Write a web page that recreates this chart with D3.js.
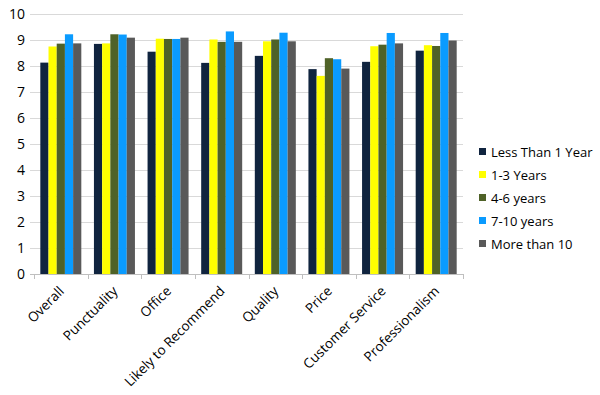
<!DOCTYPE html>
<html>
<head>
<meta charset="utf-8">
<script src="https://cdn.jsdelivr.net/npm/d3@7"></script>
<style>
  body { margin: 0; background: #fff; }
  text { font-family: "Open Sans", sans-serif; fill: #000; }
</style>
</head>
<body>
<svg id="chart" width="600" height="395"></svg>
<script>
const categories = ["Overall", "Punctuality", "Office", "Likely to Recommend", "Quality", "Price", "Customer Service", "Professionalism"];
const seriesNames = ["Less Than 1 Year", "1-3 Years", "4-6 years", "7-10 years", "More than 10"];
const colors = ["#10243f", "#ffff00", "#4f6228", "#0a9bff", "#595959"];

// one array per series, in category order
const lessThan1 = [8.13, 8.85, 8.55, 8.12, 8.39, 7.88, 8.16, 8.59];
const years1to3 = [8.75, 8.87, 9.05, 9.02, 8.95, 7.62, 8.76, 8.80];
const years4to6 = [8.86, 9.22, 9.04, 8.93, 9.02, 8.30, 8.82, 8.77];
const years7to10 = [9.22, 9.21, 9.04, 9.33, 9.28, 8.26, 9.27, 9.27];
const moreThan10 = [8.87, 9.09, 9.09, 8.93, 8.95, 7.90, 8.87, 8.98];
const yTicks = [0, 1, 2, 3, 4, 5, 6, 7, 8, 9, 10];

const series = [lessThan1, years1to3, years4to6, years7to10, moreThan10];

const svg = d3.select("#chart");
const plotLeft = 34, plotRight = 463, plotTop = 14, plotBottom = 274;

const x = d3.scaleBand().domain(categories).range([plotLeft, plotRight]).paddingInner(0).paddingOuter(0);
const xInner = d3.scaleBand().domain(d3.range(series.length)).range([0, x.bandwidth()]).paddingOuter(0.77).paddingInner(0);
const y = d3.scaleLinear().domain([0, 10]).range([plotBottom, plotTop]);

// gridlines
svg.append("g").selectAll("line").data(yTicks.slice(1)).enter().append("line")
    .attr("x1", plotLeft - 4).attr("x2", plotRight)
    .attr("y1", d => Math.round(y(d)) + 0.5).attr("y2", d => Math.round(y(d)) + 0.5)
    .attr("stroke", "#d9d9d9").attr("stroke-width", 1);

// y tick labels
svg.append("g").selectAll("text").data(yTicks).enter().append("text")
    .attr("x", 25).attr("y", d => y(d) + 5)
    .attr("text-anchor", "end")
    .attr("font-size", 14)
    .text(d => d);

// bars
series.forEach((vals, si) => {
    svg.append("g").selectAll("rect").data(vals).enter().append("rect")
        .attr("x", (d, i) => x(categories[i]) + xInner(si))
        .attr("y", d => y(d))
        .attr("width", xInner.bandwidth())
        .attr("height", d => y(0) - y(d))
        .attr("fill", colors[si]);
});

// x axis line + ticks
svg.append("line").attr("x1", plotLeft - 4).attr("x2", plotRight)
    .attr("y1", plotBottom + 0.5).attr("y2", plotBottom + 0.5)
    .attr("stroke", "#bfbfbf");
const tickPos = categories.map(c => x(c)).concat([plotRight]);
svg.append("g").selectAll("line").data(tickPos).enter().append("line")
    .attr("x1", d => Math.round(d) + 0.5).attr("x2", d => Math.round(d) + 0.5)
    .attr("y1", plotBottom).attr("y2", plotBottom + 5)
    .attr("stroke", "#bfbfbf");

// x labels, rotated
svg.append("g").selectAll("text").data(categories).enter().append("text")
    .attr("transform", d => `translate(${x(d) + x.bandwidth() / 2 + 4},${plotBottom + 18}) rotate(-45)`)
    .attr("text-anchor", "end")
    .attr("font-size", 13.5)
    .text(d => d);

// legend
const legend = svg.append("g").selectAll("g").data(seriesNames).enter().append("g")
    .attr("transform", (d, i) => `translate(479,${152 + i * 23})`);
legend.append("rect").attr("x", 0).attr("y", -4).attr("width", 7).attr("height", 7)
    .attr("fill", (d, i) => colors[i]);
legend.append("text").attr("x", 12).attr("y", 5)
    .attr("font-size", 13)
    .text(d => d);
</script>
</body>
</html>
